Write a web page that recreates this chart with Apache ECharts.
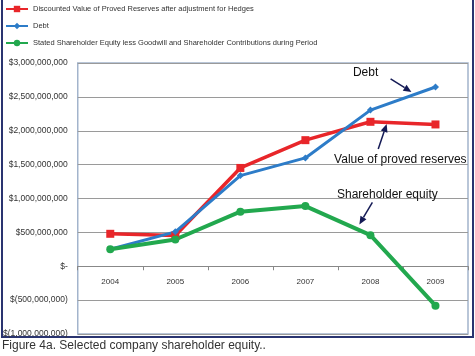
<!DOCTYPE html>
<html><head><meta charset="utf-8">
<script src="https://cdn.jsdelivr.net/npm/echarts@6/dist/echarts.min.js"></script>
<style>html,body{margin:0;padding:0;background:#fff}#c{width:475px;height:356px}</style>
</head><body><div id="c"></div>
<script>
const years = ['2004','2005','2006','2007','2008','2009'];
const reserves = [479e6, 454e6, 1451e6, 1861e6, 2132e6, 2093e6];
const debt = [252e6, 508e6, 1338e6, 1599e6, 2305e6, 2646e6];
const equity = [252e6, 395e6, 805e6, 888e6, 459e6, -582e6];
const seriesNames = [
  'Discounted Value of Proved Reserves after adjustment for Hedges',
  'Debt',
  'Stated Shareholder Equity less Goodwill and Shareholder Contributions during Period'
];
// annotations in data space: [category index, value]
const annotations = [
  {text:'Debt', at:[3.925, 2.864e9], from:[4.31, 2.766e9], to:[4.63, 2.573e9]},
  {text:'Value of proved reserves', at:[4.46, 1.58e9], from:[4.12, 1.73e9], to:[4.25, 2.10e9]},
  {text:'Shareholder equity', at:[4.26, 1.06e9], from:[4.03, 0.943e9], to:[3.83, 0.618e9]}
];
const caption = 'Figure 4a. Selected company shareholder equity..';

function fmt(v){
  if (v === 0) return '$-';
  const s = Math.abs(v).toLocaleString('en-US');
  return v < 0 ? '$(' + s + ')' : '$' + s;
}
const chart = echarts.init(document.getElementById('c'));
const font = 'Liberation Sans, Arial, sans-serif';
const opt = {
  animation:false,
  legend:{
    orient:'vertical', left:5, top:5, padding:0, itemWidth:22, itemHeight:8, itemGap:9,
    textStyle:{fontSize:7.5, color:'#333', fontFamily:font},
    data:seriesNames
  },
  grid:{left:76, right:7, top:63, bottom:22, show:true, borderColor:'#A3B4CC', borderWidth:1.5},
  xAxis:[{
    type:'category', data:years, boundaryGap:true, position:'bottom', offset:0,
    axisLine:{onZero:false, lineStyle:{color:'#888', width:1}},
    axisTick:{show:true, length:4, lineStyle:{color:'#888'}},
    axisLabel:{fontSize:8, color:'#333', fontFamily:font, margin:12}
  },{
    type:'value', min:-0.5, max:5.5, show:false
  }],
  yAxis:{
    type:'value', min:-1e9, max:3e9, interval:5e8,
    axisLine:{show:false}, axisTick:{show:false},
    splitLine:{lineStyle:{color:'#9a9a9a', width:1}},
    axisLabel:{fontSize:8.5, color:'#333', fontFamily:font, margin:10, formatter:fmt}
  },
  series:[
    {name:seriesNames[0], type:'line', data:reserves, color:'#E8262A',
     symbol:'rect', symbolSize:8, lineStyle:{width:3.5}},
    {name:seriesNames[1], type:'line', data:debt, color:'#2D7CC8',
     symbol:'diamond', symbolSize:7, lineStyle:{width:3}},
    {name:seriesNames[2], type:'line', data:equity, color:'#22A84E',
     symbol:'circle', symbolSize:8, lineStyle:{width:4}}
  ]
};
chart.setOption(opt);
function px(p){ return chart.convertToPixel({xAxisIndex:1, yAxisIndex:0}, p); }
// move the category axis up to the zero line
const yZero = px([0,0])[1];
const yBottom = px([0,-1e9])[1];
chart.setOption({xAxis:[{offset: yZero - yBottom}, {}]});
const g = [];
annotations.forEach(a=>{
  const t = px(a.at), f = px(a.from), e = px(a.to);
  g.push({type:'text', x:t[0], y:t[1], style:{text:a.text, fontSize:12, fontFamily:font, fill:'#111', textAlign:'center', textVerticalAlign:'middle'}});
  const dx = e[0]-f[0], dy = e[1]-f[1], L = Math.hypot(dx,dy), ux = dx/L, uy = dy/L;
  const hl = 8, hw = 3.5;
  const bx = e[0]-ux*hl, by = e[1]-uy*hl;
  g.push({type:'line', shape:{x1:f[0], y1:f[1], x2:bx, y2:by}, style:{stroke:'#141a55', lineWidth:1.5}});
  g.push({type:'polygon', shape:{points:[[e[0],e[1]],[bx-uy*hw, by+ux*hw],[bx+uy*hw, by-ux*hw]]}, style:{fill:'#141a55'}});
});
g.push({type:'rect', shape:{x:2, y:-1, width:471, height:338}, style:{fill:'none', stroke:'#2a3470', lineWidth:2}});
g.push({type:'text', left:2, top:340, style:{text:caption, fontSize:12, fontFamily:font, fill:'#333'}});
chart.setOption({graphic:g});
</script></body></html>
